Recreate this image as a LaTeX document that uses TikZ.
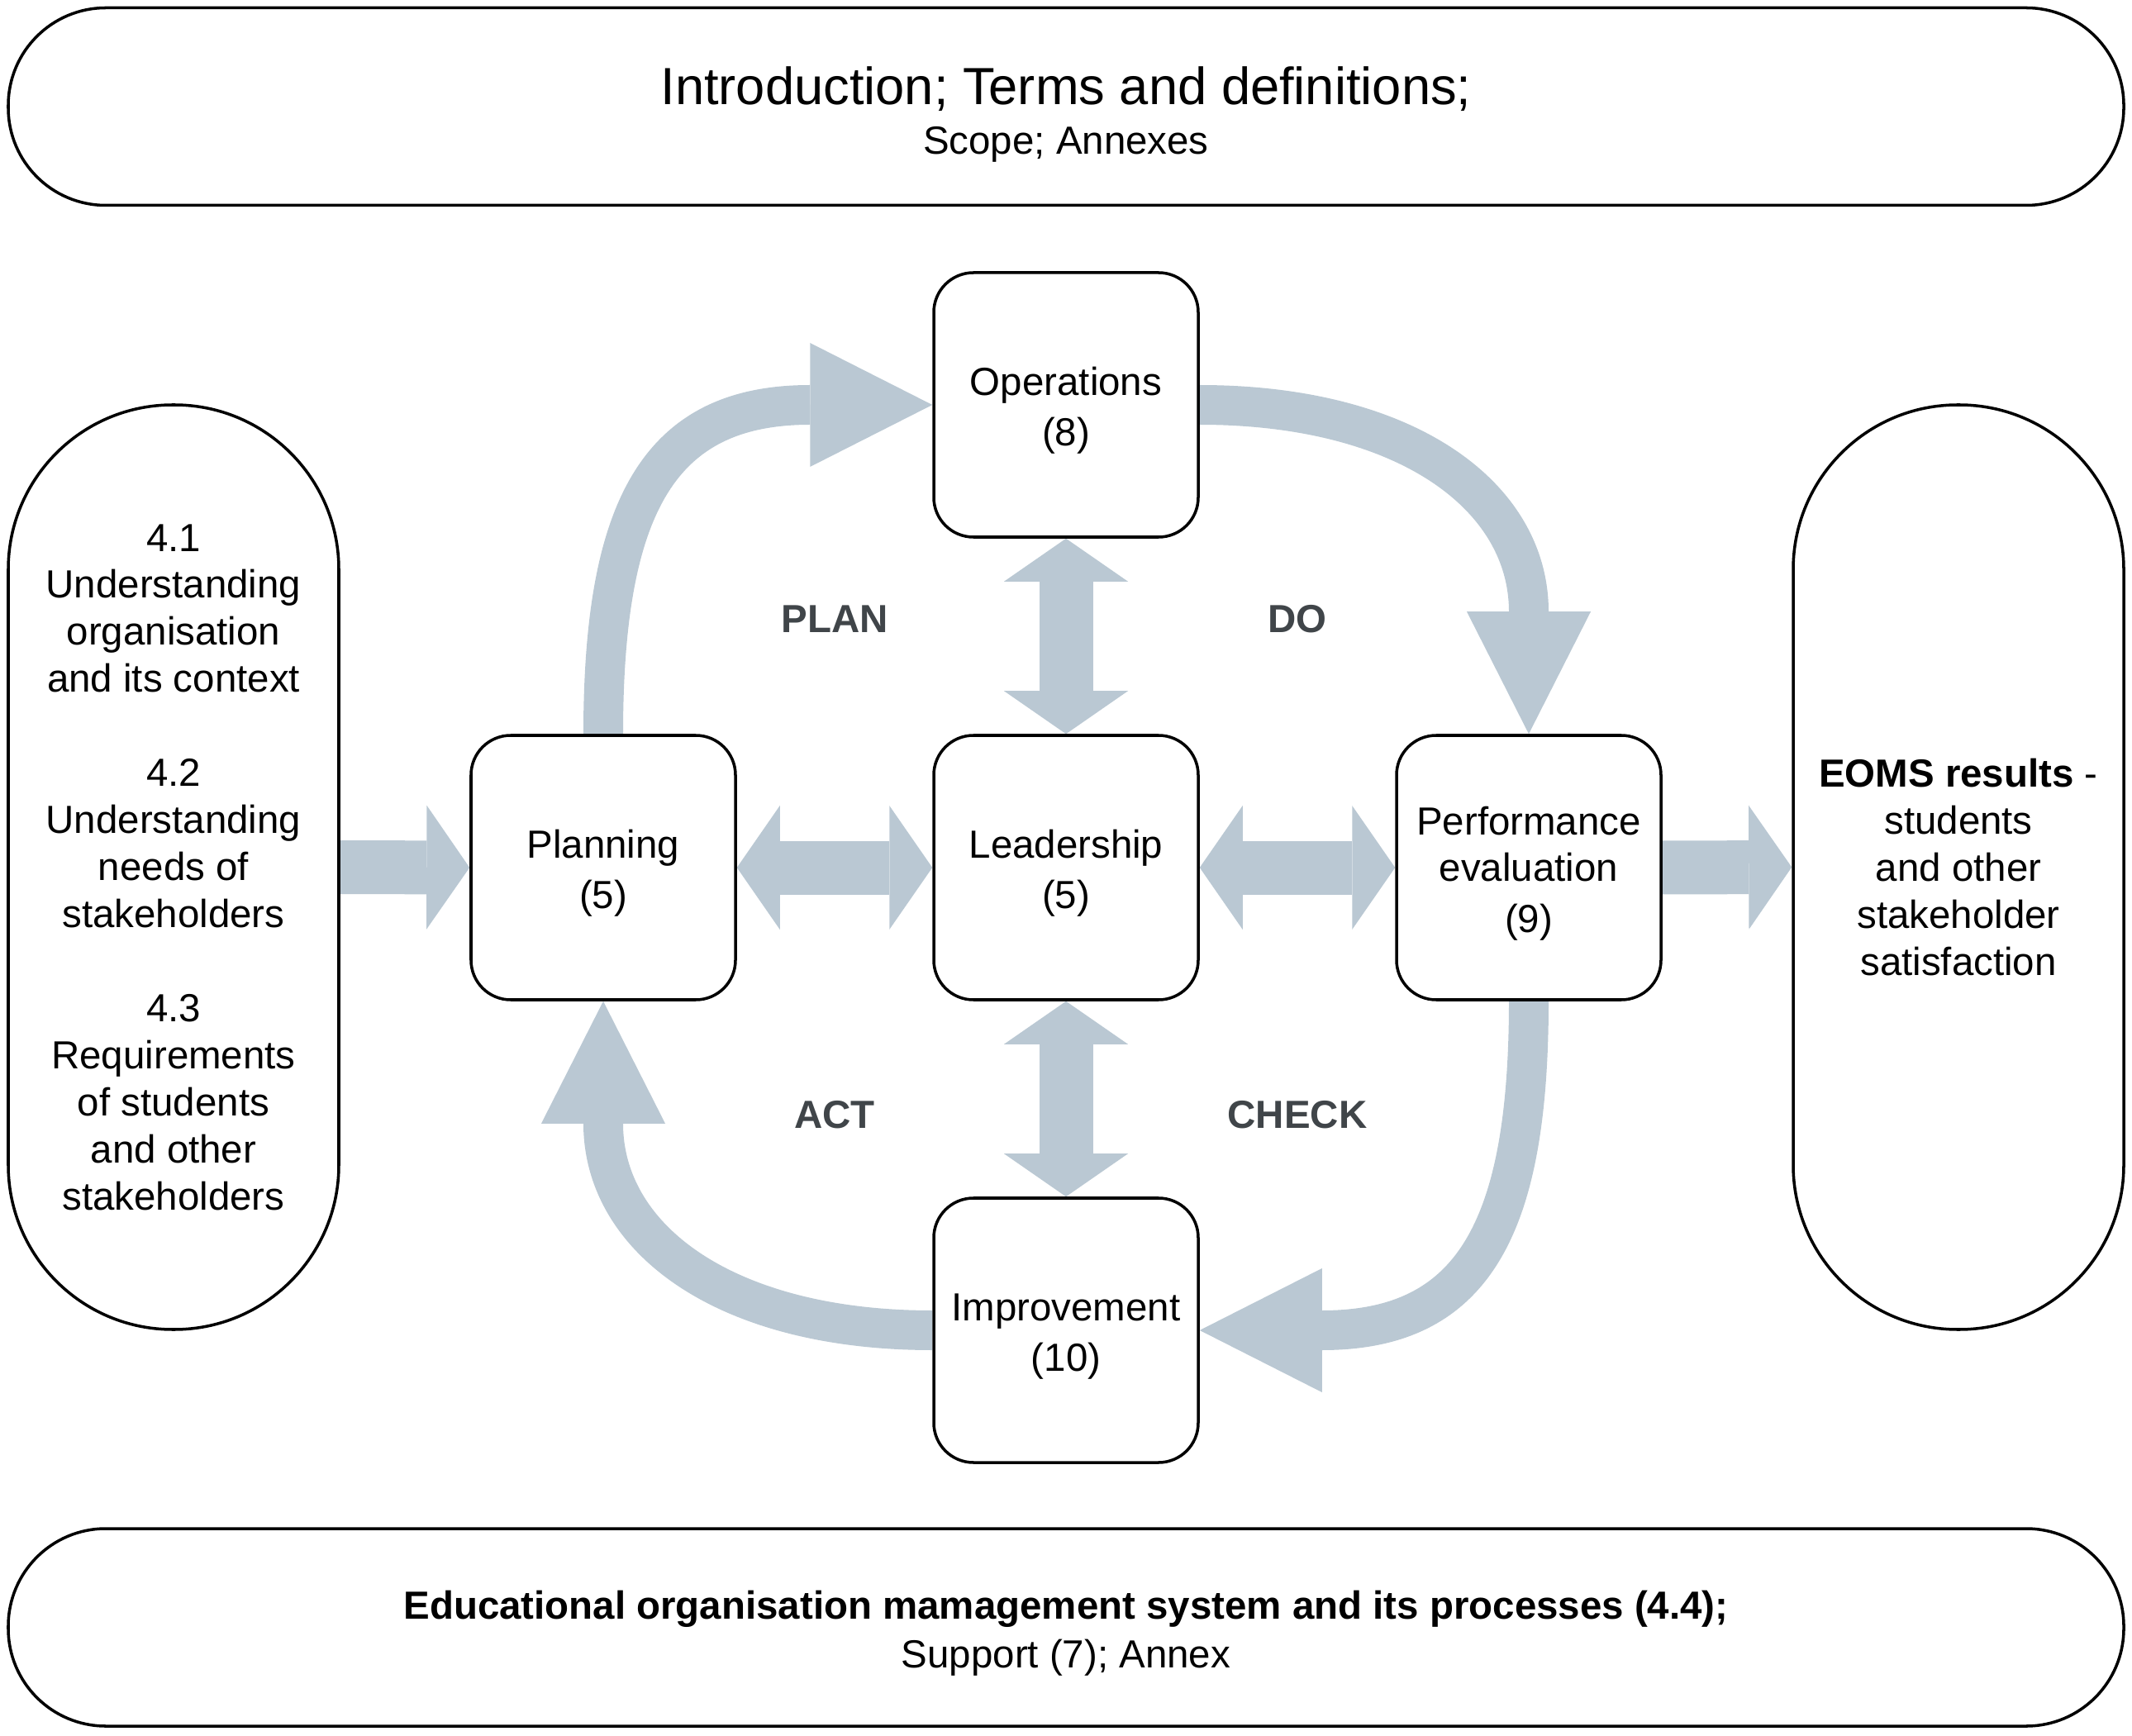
\documentclass[tikz,border=0pt]{standalone}
\usepackage{fontspec}
\setmainfont{Liberation Sans}
\usetikzlibrary{arrows.meta,backgrounds}
\definecolor{flow}{HTML}{BAC8D3}
\definecolor{phasegrey}{HTML}{404549}
\newcommand{\clausestrut}{\rule{0pt}{13.7pt}}
\begin{document}
\begin{tikzpicture}[
  every node/.style={align=center, font=\fontsize{13.5}{17.5}\selectfont},
  banner/.style={draw, line width=1pt, rounded corners=1.18cm, minimum width=25.6cm, minimum height=2.39cm, inner sep=0pt, font=\fontsize{13.5}{16.9}\selectfont},
  pill/.style={draw, line width=1pt, rounded corners=1.99cm, minimum width=4cm, minimum height=11.19cm, inner sep=0pt, font=\fontsize{13.5}{16.2}\selectfont},
  clause/.style={draw, line width=1pt, rounded corners=4.8mm, minimum size=3.2cm, inner sep=0pt, fill=white},
  phase/.style={font=\fontsize{13.5}{16.2}\selectfont\bfseries, text=phasegrey},
  blockarrow/.style={flow, line width=6.5mm, -{Triangle[length=5.2mm, width=15mm, line width=0pt]}},
  twoway/.style={flow, line width=6.5mm, {Triangle[length=5.2mm, width=15mm, line width=0pt]}-{Triangle[length=5.2mm, width=15mm, line width=0pt]}},
  curvearrow/.style={flow, line width=4.8mm, -{Triangle[length=14.8mm, width=15mm, line width=0pt]}}
]
  \useasboundingbox (0,0) rectangle (25.8,21);

  \node[banner] (intro) at (12.9,19.71) {\rule{0pt}{18.5pt}{\fontsize{18}{17}\selectfont Introduction; Terms and definitions;}\\Scope; Annexes};
  \node[banner] (system) at (12.9,1.305) {\rule{0pt}{13.9pt}\textbf{Educational organisation mamagement system and its processes (4.4);}\\Support (7); Annex};

  \node[pill] (context) at (2.1,10.505) {4.1\\Understanding\\organisation\\and its context\\[16.2pt]4.2\\Understanding\\needs of\\stakeholders\\[16.2pt]4.3\\Requirements\\of students\\and other\\stakeholders};
  \node[pill] (results) at (23.7,10.505) {\textbf{EOMS results} -\\students\\and other\\stakeholder\\satisfaction};

  \node[clause] (oper) at (12.9,16.1) {\clausestrut Operations\\(8)};
  \node[clause] (plan) at (7.3,10.5) {\clausestrut Planning\\(5)};
  \node[clause] (lead) at (12.9,10.5) {\clausestrut Leadership\\(5)};
  \node[clause] (perf) at (18.5,10.5) {\clausestrut Performance\\[-1.5pt]evaluation\\(9)};
  \node[clause] (impr) at (12.9,4.9) {\clausestrut Improvement\\(10)};

  \node[phase] (planlbl) at (10.1,13.51) {PLAN};
  \node[phase] (dolbl) at (15.7,13.51) {DO};
  \node[phase] (actlbl) at (10.1,7.51) {ACT};
  \node[phase] (checklbl) at (15.7,7.51) {CHECK};

  \begin{scope}[on background layer]
    \draw[blockarrow] (context.east) -- (plan.west);
    \draw[twoway] (plan.east) -- (lead.west);
    \draw[twoway] (lead.east) -- (perf.west);
    \draw[blockarrow] (perf.east) -- (results.west);
    \draw[twoway] (lead.north) -- (oper.south);
    \draw[twoway] (lead.south) -- (impr.north);
    \draw[curvearrow] (plan.north) .. controls +(0,2.8) and +(-1.8,0) .. ([xshift=-14.8mm]oper.west) -- (oper.west);
    \draw[curvearrow] (oper.east) .. controls +(2.5,0) and +(0,1.4) .. ([yshift=14.8mm]perf.north) -- (perf.north);
    \draw[curvearrow] (perf.south) .. controls +(0,-2.8) and +(1.8,0) .. ([xshift=14.8mm]impr.east) -- (impr.east);
    \draw[curvearrow] (impr.west) .. controls +(-2.5,0) and +(0,-1.4) .. ([yshift=-14.8mm]plan.south) -- (plan.south);
  \end{scope}
\end{tikzpicture}
\end{document}
